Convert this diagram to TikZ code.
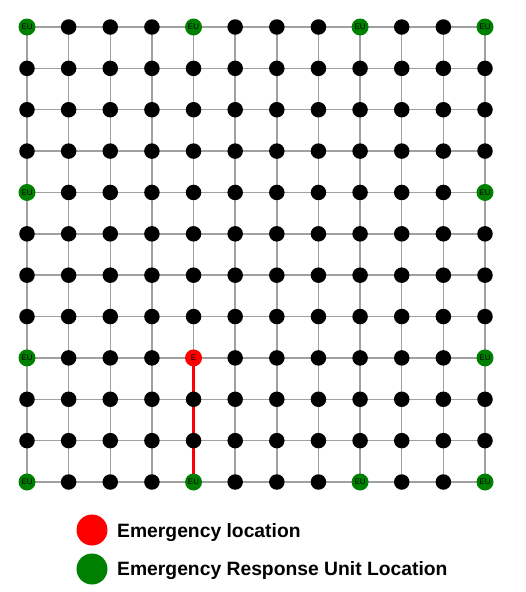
\documentclass[tikz,border=0pt]{standalone}
\usepackage{fontspec}
\setmainfont{Liberation Sans}
\definecolor{eugreen}{RGB}{0,128,0}
\definecolor{edgegray}{RGB}{160,160,160}
\begin{document}
\begin{tikzpicture}[x=1pt,y=-1pt,
  vtx/.style={circle,fill=black,inner sep=0pt,minimum size=15.5pt},
  eu/.style={circle,fill=eugreen,inner sep=0pt,minimum size=17pt,font=\fontsize{8}{8}\selectfont,text=black},
  em/.style={circle,fill=red,inner sep=0pt,minimum size=17pt,font=\fontsize{8}{8}\selectfont,text=black},
  edge/.style={draw=edgegray,line width=1.5pt},
  path/.style={draw=red,line width=3pt},
  legdot/.style={circle,inner sep=0pt,minimum size=31pt},
  legtext/.style={anchor=west,font=\bfseries\fontsize{19.3}{19.3}\selectfont,inner sep=0pt}]
\useasboundingbox (0,0) rectangle (526,592);
\pgfmathsetmacro{\dx}{(485-27)/11}
\pgfmathsetmacro{\dy}{(482-27)/11}
% nodes
\foreach \i in {0,...,11}{
  \foreach \j in {0,...,11}{
    \coordinate (c-\i-\j) at ({27+\i*\dx},{27+\j*\dy});
  }
}
% edges
\foreach \i in {0,...,11}{
  \foreach \j [evaluate=\j as \jn using int(\j+1)] in {0,...,10}{
    \draw[edge] (c-\i-\j) -- (c-\i-\jn);
    \draw[edge] (c-\j-\i) -- (c-\jn-\i);
  }
}
% path
\draw[path] (c-4-8) -- (c-4-9) -- (c-4-10) -- (c-4-11);
% vertices
\foreach \i in {0,...,11}{
  \foreach \j in {0,...,11}{
    \node[vtx] (n-\i-\j) at (c-\i-\j) {};
  }
}
\foreach \p in {0-0,4-0,8-0,11-0,0-4,11-4,0-8,11-8,0-11,4-11,8-11,11-11}{
  \node[eu] (eu-\p) at (c-\p) {EU};
}
\node[em] (emg) at (c-4-8) {E};
% legend
\node[legdot,fill=red] (lr) at (92,530) {};
\node[legdot,fill=eugreen] (lg) at (92,569) {};
\node[legtext] (tr) at (117,532.5) {Emergency location};
\node[legtext] (tg) at (117,570.5) {Emergency Response Unit Location};
\end{tikzpicture}
\end{document}
